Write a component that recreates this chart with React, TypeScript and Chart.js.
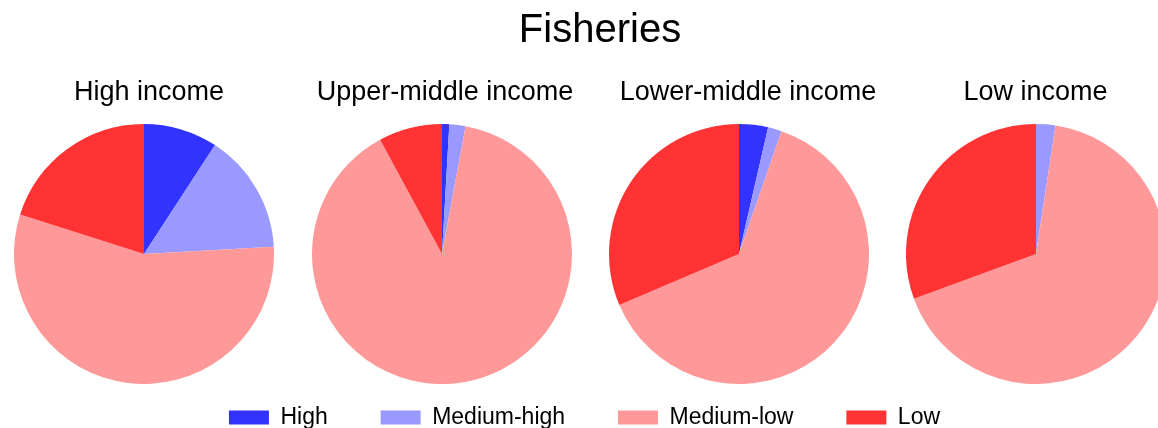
import React, { useEffect, useRef } from "react";
import { Chart, registerables } from "chart.js";

Chart.register(...registerables);

// ---------------- data ----------------
const TITLE = "Fisheries";
const CATEGORIES = ["High", "Medium-high", "Medium-low", "Low"];
const GROUPS = ["High income", "Upper-middle income", "Lower-middle income", "Low income"];
const HIGH_INCOME = [9.2, 14.9, 55.8, 20.1];
const UPPER_MIDDLE_INCOME = [0.9, 2.0, 89.2, 7.9];
const LOWER_MIDDLE_INCOME = [3.6, 1.7, 63.3, 31.4];
const LOW_INCOME = [0, 2.4, 67.0, 30.6];
const SERIES = [HIGH_INCOME, UPPER_MIDDLE_INCOME, LOWER_MIDDLE_INCOME, LOW_INCOME];
const COLORS = ["#3333ff", "#9999ff", "#ff9999", "#ff3333"];

// ---------------- layout ----------------
const FONT_FAMILY = '"Liberation Sans", Arial, Helvetica, sans-serif';
const WIDTH = 1158;
const HEIGHT = 428;
const PIE_CX = [144, 441.5, 738.5, 1036];
const PIE_CY = 253.5;
const PIE_R = 130;
const GROUP_TITLE_CX = [149, 445, 748, 1035.5];
const GROUP_TITLE_BASELINE = 99.5;
const HEADER_CANVAS_WIDTH = 1200;
const LEGEND_TOP = 352.6;
const LEGEND_CANVAS_WIDTH = 1169;

Chart.defaults.font.family = FONT_FAMILY;

function PieChart({ values, cx }: { values: number[]; cx: number }) {
  const ref = useRef<HTMLCanvasElement | null>(null);
  useEffect(() => {
    if (!ref.current) return;
    const chart = new Chart(ref.current, {
      type: "pie",
      data: {
        labels: CATEGORIES,
        datasets: [
          {
            data: values,
            backgroundColor: COLORS,
            borderWidth: 0,
            hoverOffset: 0,
          },
        ],
      },
      options: {
        responsive: false,
        animation: false,
        devicePixelRatio: 1,
        events: [],
        layout: { padding: 0 },
        plugins: {
          legend: { display: false },
          title: { display: false },
          tooltip: { enabled: false },
        },
      },
    });
    return () => chart.destroy();
  }, [values]);
  const size = PIE_R * 2;
  return (
    <canvas
      ref={ref}
      width={size}
      height={size}
      style={{ position: "absolute", left: cx - PIE_R, top: PIE_CY - PIE_R, width: size, height: size }}
    />
  );
}

const groupTitlesPlugin = {
  id: "groupTitles",
  afterDraw(chart: any) {
    const ctx = chart.ctx;
    ctx.save();
    ctx.font = `27px ${FONT_FAMILY}`;
    ctx.fillStyle = "#000";
    ctx.textAlign = "center";
    ctx.textBaseline = "alphabetic";
    GROUPS.forEach((g, i) => ctx.fillText(g, GROUP_TITLE_CX[i], GROUP_TITLE_BASELINE));
    ctx.restore();
  },
};

function Header() {
  const ref = useRef<HTMLCanvasElement | null>(null);
  useEffect(() => {
    if (!ref.current) return;
    const chart = new Chart(ref.current, {
      type: "pie",
      data: { labels: [], datasets: [{ data: [], borderWidth: 0 }] },
      options: {
        responsive: false,
        animation: false,
        devicePixelRatio: 1,
        events: [],
        plugins: {
          legend: { display: false },
          tooltip: { enabled: false },
          title: {
            display: true,
            text: TITLE,
            color: "#000",
            font: { size: 40, weight: "normal", family: FONT_FAMILY },
            padding: { top: 7, bottom: 0 },
          },
        },
      },
      plugins: [groupTitlesPlugin],
    });
    return () => chart.destroy();
  }, []);
  return (
    <canvas
      ref={ref}
      width={HEADER_CANVAS_WIDTH}
      height={120}
      style={{ position: "absolute", left: 0, top: 0, width: HEADER_CANVAS_WIDTH, height: 120 }}
    />
  );
}

function Legend() {
  const ref = useRef<HTMLCanvasElement | null>(null);
  useEffect(() => {
    if (!ref.current) return;
    const chart = new Chart(ref.current, {
      type: "pie",
      data: {
        labels: CATEGORIES,
        datasets: [{ data: CATEGORIES.map(() => 0), backgroundColor: COLORS, borderWidth: 0 }],
      },
      options: {
        responsive: false,
        animation: false,
        devicePixelRatio: 1,
        events: [],
        plugins: {
          tooltip: { enabled: false },
          title: { display: false },
          legend: {
            display: true,
            position: "top",
            labels: {
              color: "#000",
              font: { size: 23, family: FONT_FAMILY },
              boxWidth: 40,
              boxHeight: 14,
              padding: 52.9,
            },
          },
        },
      },
    });
    return () => chart.destroy();
  }, []);
  return (
    <canvas
      ref={ref}
      width={LEGEND_CANVAS_WIDTH}
      height={200}
      style={{ position: "absolute", left: 0, top: LEGEND_TOP, width: LEGEND_CANVAS_WIDTH, height: 200 }}
    />
  );
}

export default function App() {
  return (
    <div
      style={{
        position: "fixed",
        left: 0,
        top: 0,
        width: WIDTH,
        height: HEIGHT,
        overflow: "hidden",
        background: "#fff",
      }}
    >
      {SERIES.map((values, i) => (
        <PieChart key={GROUPS[i]} values={values} cx={PIE_CX[i]} />
      ))}
      <Header />
      <Legend />
    </div>
  );
}
